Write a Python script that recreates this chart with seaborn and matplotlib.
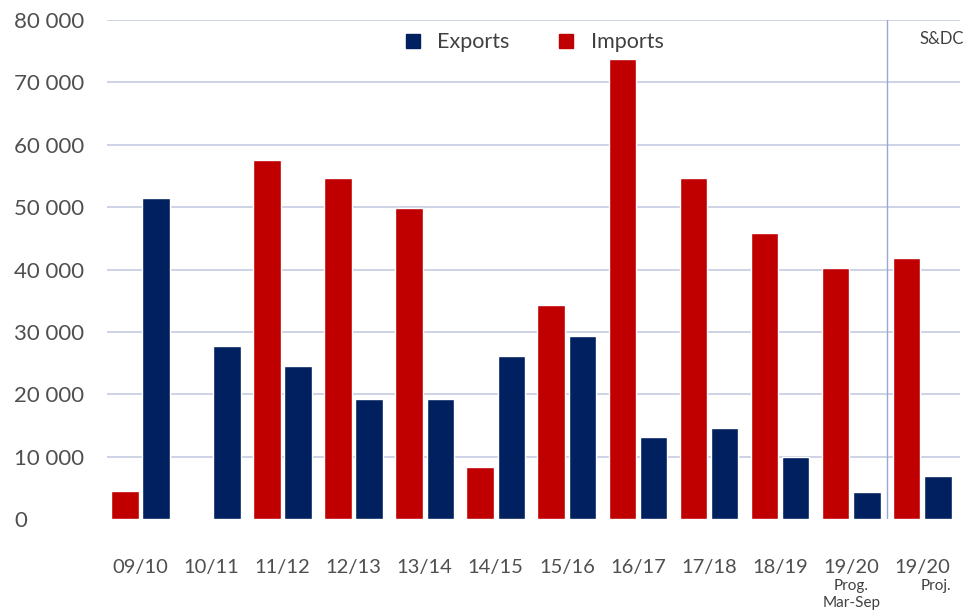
import numpy as np
import pandas as pd
import matplotlib
matplotlib.use("Agg")
import matplotlib.pyplot as plt
import seaborn as sns
from matplotlib.lines import Line2D
from matplotlib.ticker import FuncFormatter

# Marketing seasons (unique keys), their printed labels and sub-notes
seasons = ["09/10", "10/11", "11/12", "12/13", "13/14", "14/15",
           "15/16", "16/17", "17/18", "18/19", "19/20 Prog.", "19/20 Proj."]
season_labels = ["09/10", "10/11", "11/12", "12/13", "13/14", "14/15",
                 "15/16", "16/17", "17/18", "18/19", "19/20", "19/20"]
season_notes = ["", "", "", "", "", "", "", "", "", "", "Prog.\nMar-Sep", "Proj."]

# Tonnes traded per season
imports = [4500, 0, 57500, 54600, 49900, 8300, 34300, 73700, 54700, 45900, 40200, 41800]
exports = [51400, 27800, 24600, 19200, 19200, 26100, 29300, 13100, 14600, 10000, 4400, 6900]

y_ticks = [0, 10000, 20000, 30000, 40000, 50000, 60000, 70000, 80000]

RED = "#C00000"
NAVY = "#002060"
GRID = "#C9D0E3"
TEXT = "#4F4F4F"

df = pd.DataFrame({
    "season": seasons * 2,
    "flow": ["Imports"] * len(seasons) + ["Exports"] * len(seasons),
    "tonnes": imports + exports,
})

sns.set_theme(style="white")
plt.rcParams["font.family"] = ["Lato", "DejaVu Sans"]

fig = plt.figure(figsize=(9.77, 6.15), dpi=100)
ax = fig.add_axes([0.1095, 0.156, 0.873, 0.8115])

sns.barplot(data=df, x="season", y="tonnes", hue="flow",
            order=seasons, hue_order=["Imports", "Exports"],
            palette={"Imports": RED, "Exports": NAVY},
            width=0.88, gap=0.12, saturation=1, legend=False, ax=ax)

ax.set_xlim(-0.47, len(seasons) - 0.5 + 0.03)
ax.set_ylim(0, 80000)
ax.set_yticks(y_ticks)
ax.yaxis.set_major_formatter(FuncFormatter(lambda v, _: f"{int(v):,}".replace(",", " ")))

ax.set_axisbelow(True)
ax.yaxis.grid(True, color=GRID, linewidth=1.3)
ax.xaxis.grid(False)
ax.get_ygridlines()[0].set_visible(False)
for s in ax.spines.values():
    s.set_visible(False)

ax.set_xlabel("")
ax.set_ylabel("")
ax.set_xticks(range(len(seasons)))
ax.set_xticklabels(season_labels)
ax.tick_params(axis="x", length=0, pad=29, labelsize=14.5, labelcolor=TEXT)
ax.tick_params(axis="y", length=0, pad=67, labelsize=16, labelcolor=TEXT)
for lbl in ax.get_yticklabels():
    lbl.set_horizontalalignment("left")

# Sub-notes under the last two season labels
for i, note in enumerate(season_notes):
    if note:
        ax.annotate(note, xy=(i, 0), xycoords=("data", "axes fraction"),
                    xytext=(10 if i == len(seasons) - 1 else 0, -43),
                    textcoords="offset points", ha="center", va="top",
                    fontsize=11, color="#404040", linespacing=1.3)

# Separator between the progress estimate and the projection
ax.axvline(len(seasons) - 1.5, color="#9AA6D6", linewidth=1.0)
ax.text(len(seasons) - 0.72, 78200, "S&DC", ha="center", va="top",
        fontsize=12, color="#404040")

handles = [Line2D([], [], marker="s", linestyle="none", markersize=9.5,
                  markerfacecolor=NAVY, markeredgecolor=NAVY, label="Exports"),
           Line2D([], [], marker="s", linestyle="none", markersize=9.5,
                  markerfacecolor=RED, markeredgecolor=RED, label="Imports")]
ax.legend(handles=handles, loc="center", bbox_to_anchor=(0.493, 0.955),
          ncol=2, frameon=False, fontsize=15.5, handletextpad=0.15,
          columnspacing=1.63, labelcolor="#404040")

fig.savefig("out.png", dpi=100, facecolor="white")
